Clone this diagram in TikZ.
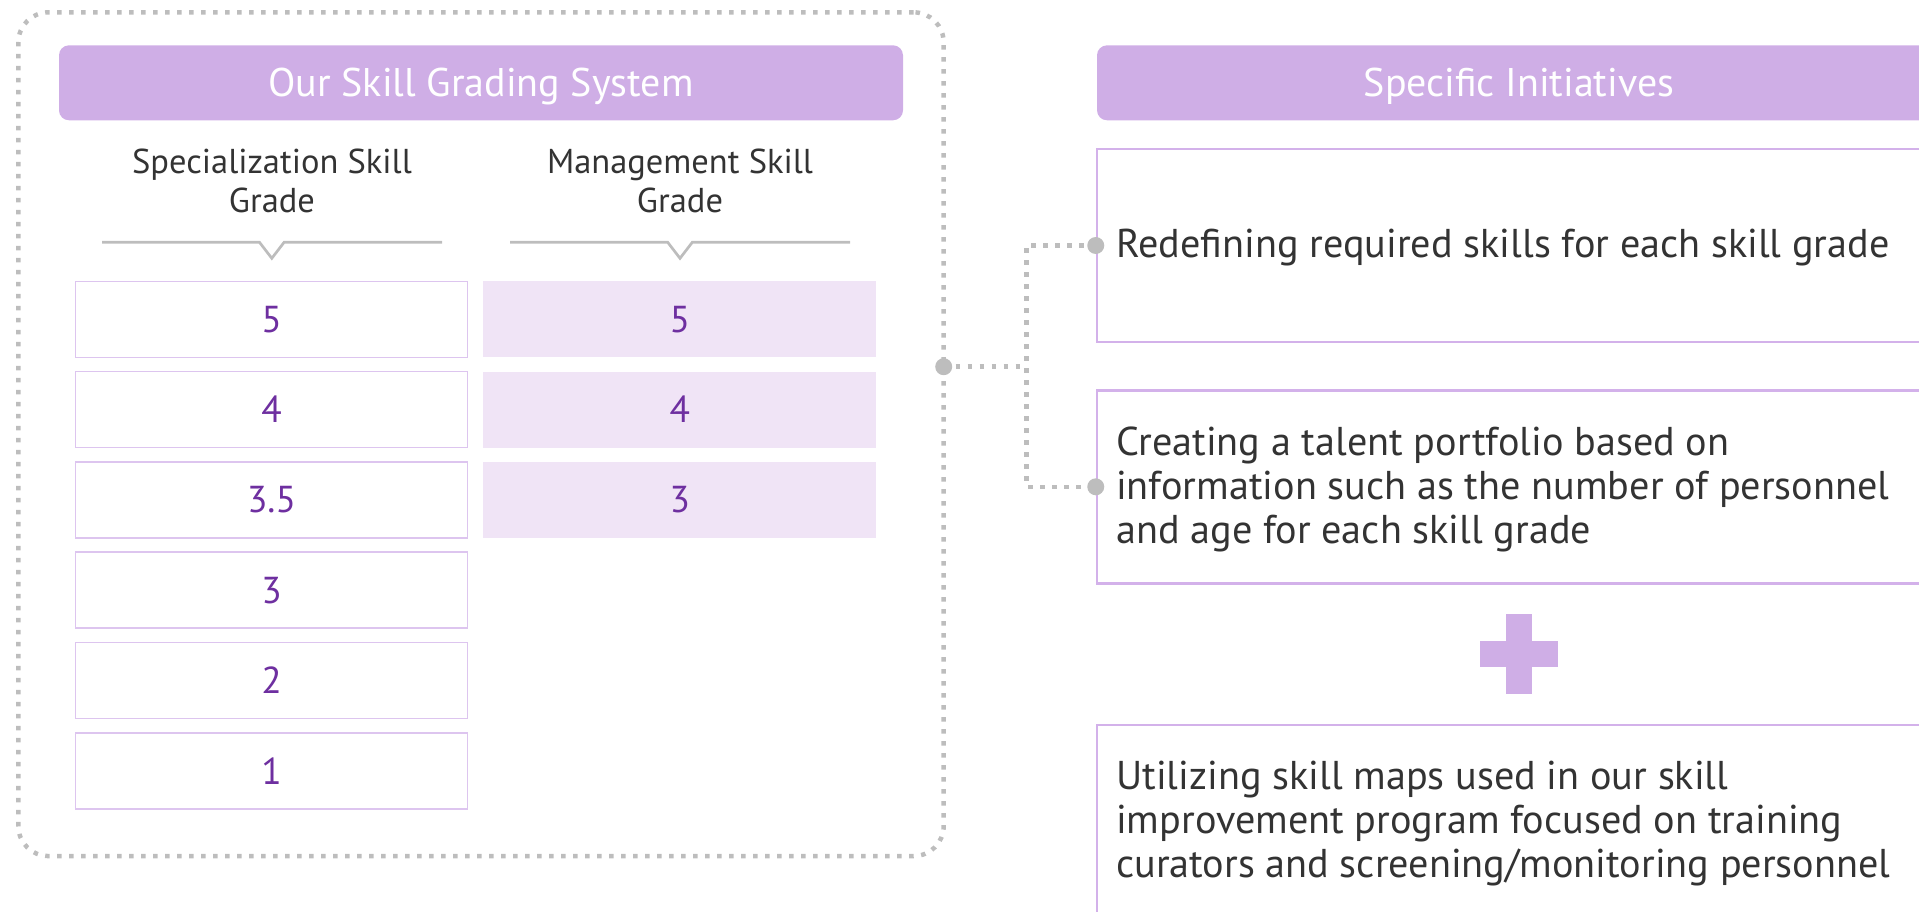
\documentclass[tikz,border=0pt]{standalone}
\usepackage{fontspec}
\setmainfont{PT Sans}
\definecolor{hdr}{HTML}{CFAEE6}
\definecolor{lline}{HTML}{DDC5EF}
\definecolor{rline}{HTML}{D3B1EA}
\definecolor{mfill}{HTML}{F0E4F6}
\definecolor{numcol}{HTML}{6E2FA0}
\definecolor{txt}{HTML}{333333}
\definecolor{gry}{HTML}{BDBDBD}
\begin{document}
\begin{tikzpicture}[x=1pt,y=-1pt,
  hdrbox/.style={fill=hdr, rounded corners=10pt, minimum width=844pt, minimum height=75pt, inner sep=0pt,
     text=white, font=\fontsize{40}{48}\selectfont, text height=28pt, text depth=0pt},
  sbox/.style={draw=lline, line width=1.5pt, fill=white, minimum width=392pt, minimum height=76pt, inner sep=0pt,
     text=numcol, font=\fontsize{37.5}{46}\selectfont},
  mbox/.style={fill=mfill, minimum width=393pt, minimum height=76pt, inner sep=0pt,
     text=numcol, font=\fontsize{37.5}{46}\selectfont},
  rbox/.style={draw=rline, line width=2.5pt, minimum width=846pt, minimum height=193pt, inner sep=0pt},
  coltext/.style={text=txt, align=center, anchor=base, inner sep=0pt, font=\fontsize{34.5}{38.7}\selectfont},
  bodytext/.style={text=txt, align=left, anchor=base west, inner sep=0pt, font=\fontsize{40.2}{44}\selectfont},
  dotline/.style={draw=gry, line width=4.5pt, dash pattern=on 4.5pt off 7.5pt},
  bracket/.style={draw=gry, line width=2.7pt},
  gdot/.style={fill=gry, circle, minimum size=17pt, inner sep=0pt}
]
\useasboundingbox (0,0) rectangle (1919,912);
\clip (0,0) rectangle (1919,912);

% outer dotted frame
\node[dotline, rounded corners=30pt, minimum width=925.3pt, minimum height=843.7pt, inner sep=0pt] (outer) at (481,434.2) {};

% headers
\node[hdrbox] (lhdr) at (481,82.8) {Our Skill Grading System};
\node[hdrbox] (rhdr) at (1519,82.8) {Specific Initiatives};

% column titles (anchored at the baseline of the last line)
\node[coltext] (sct) at (272,212) {Specialization Skill\\Grade};
\node[coltext] (mct) at (680,212) {Management Skill\\Grade};

% brackets
\draw[bracket] (102,242.3) -- (259.5,242.3) -- (271.8,258.3) -- (284.1,242.3) -- (442,242.3);
\draw[bracket] (510,242.3) -- (667.7,242.3) -- (680,258.3) -- (692.3,242.3) -- (850,242.3);

% specialization grades
\node[sbox] (s5) at (271.5,319.3) {5};
\node[sbox] (s4) at (271.5,409.6) {4};
\node[sbox] (s35) at (271.5,499.9) {3.5};
\node[sbox] (s3) at (271.5,590.2) {3};
\node[sbox] (s2) at (271.5,680.5) {2};
\node[sbox] (s1) at (271.5,770.8) {1};

% management grades
\node[mbox] (m5) at (679.8,319.3) {5};
\node[mbox] (m4) at (679.8,409.6) {4};
\node[mbox] (m3) at (679.8,499.9) {3};

% right boxes
\node[rbox] (r1) at (1520,245.5) {};
\node[rbox] (r2) at (1520,486.8) {};
\node[rbox] (r3) at (1520,821.5) {};

\node[bodytext] (t1) at (1116,258) {Redefining required skills for each skill grade};
\node[bodytext] (t2) at (1116,543) {Creating a talent portfolio based on\\information such as the number of personnel\\and age for each skill grade};
\node[bodytext] (t3) at (1116,877) {Utilizing skill maps used in our skill\\improvement program focused on training\\curators and screening/monitoring personnel};

% plus sign
\fill[hdr] (1480,641) rectangle (1558,667);
\fill[hdr] (1506,614) rectangle (1532,694);

% connectors
\coordinate (c0) at (943.7,366.7);
\coordinate (cm) at (1026.7,366.7);
\draw[dotline] (c0) -- (cm);
\draw[dotline] (r1.west) -| (cm) |- (r2.west);
\node[gdot] (d0) at (c0) {};
\node[gdot] (d1) at (r1.west) {};
\node[gdot] (d2) at (r2.west) {};
\end{tikzpicture}
\end{document}
